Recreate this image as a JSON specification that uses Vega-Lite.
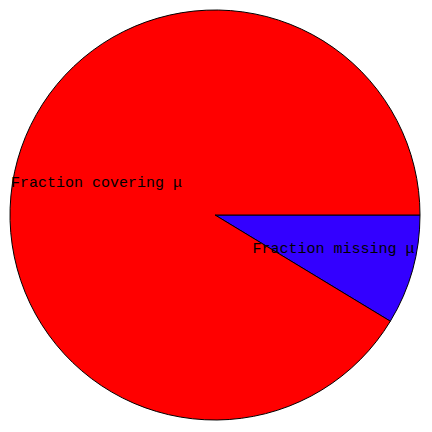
{
  "$schema": "https://vega.github.io/schema/vega-lite/v6.json",
  "width": 430,
  "height": 430,
  "padding": 0,
  "autosize": {"type": "none"},
  "background": "white",
  "view": {"stroke": null},
  "data": {
    "values": [
      {"idx": 0, "label": "Fraction missing μ", "frac": 0.0867},
      {"idx": 1, "label": "Fraction covering μ", "frac": 0.9133}
    ]
  },
  "encoding": {
    "theta": {
      "field": "frac",
      "type": "quantitative",
      "stack": true,
      "scale": {"range": [1.5708, 7.854]}
    },
    "order": {"field": "idx", "type": "quantitative"}
  },
  "layer": [
    {
      "mark": {"type": "arc", "radius": 205, "stroke": "black", "strokeWidth": 1},
      "encoding": {
        "color": {
          "field": "label",
          "type": "nominal",
          "legend": null,
          "scale": {
            "domain": ["Fraction missing μ", "Fraction covering μ"],
            "range": ["#3300ff", "#ff0000"]
          }
        }
      }
    },
    {
      "mark": {
        "type": "text",
        "radius": 123,
        "font": "Liberation Mono",
        "fontSize": 15,
        "color": "black",
        "align": "center",
        "baseline": "middle"
      },
      "encoding": {
        "text": {"field": "label", "type": "nominal"}
      }
    }
  ]
}
